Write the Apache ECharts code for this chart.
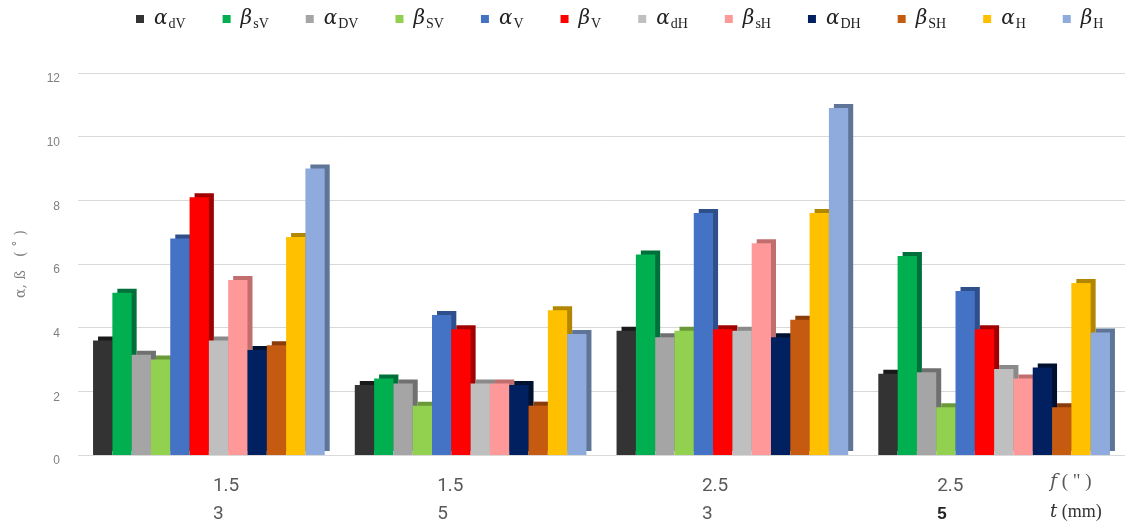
<!DOCTYPE html>
<html>
<head>
<meta charset="utf-8">
<script src="https://cdn.jsdelivr.net/npm/echarts@6/dist/echarts.min.js"></script>
<style>html,body{margin:0;padding:0;background:#fff}#c{width:1129px;height:531px}</style>
</head>
<body>
<div id="c"></div>
<script>
// ---- data ----
const fValues = ['1.5', '1.5', '2.5', '2.5'];
const tValues = ['3', '5', '3', '5'];
const seriesGreek = ['α', 'β', 'α', 'β', 'α', 'β', 'α', 'β', 'α', 'β', 'α', 'β'];
const seriesSub = ['dV', 'sV', 'DV', 'SV', 'V', 'V', 'dH', 'sH', 'DH', 'SH', 'H', 'H'];
const alpha_dV = [3.6, 2.2, 3.9, 2.55];
const beta_sV = [5.1, 2.4, 6.3, 6.25];
const alpha_DV = [3.15, 2.25, 3.7, 2.6];
const beta_SV = [3.0, 1.55, 3.9, 1.5];
const alpha_V = [6.8, 4.4, 7.6, 5.15];
const beta_V = [8.1, 3.95, 3.95, 3.95];
const alpha_dH = [3.6, 2.25, 3.9, 2.7];
const beta_sH = [5.5, 2.25, 6.65, 2.4];
const alpha_DH = [3.3, 2.2, 3.7, 2.75];
const beta_SH = [3.45, 1.55, 4.25, 1.5];
const alpha_H = [6.85, 4.55, 7.6, 5.4];
const beta_H = [9.0, 3.8, 10.9, 3.85];
const yTicks = [0, 2, 4, 6, 8, 10, 12];
const seriesValues = [alpha_dV, beta_sV, alpha_DV, beta_SV, alpha_V, beta_V, alpha_dH, beta_sH, alpha_DH, beta_SH, alpha_H, beta_H];

// ---- styles ----
const colors = ['#333333', '#00b050', '#a5a5a5', '#92d050', '#4472c4', '#ff0000', '#bfbfbf', '#ff9999', '#002060', '#c55a11', '#ffc000', '#8faadc'];
const sideColors = ['#1a1a1a', '#00703a', '#707070', '#6a9a38', '#2e4f8a', '#a00000', '#8a8a8a', '#c06e6e', '#00112f', '#8a3c0a', '#b38600', '#5f7598'];
const labelShift = [[0, 38], [37, 0], [31, 0], [84, 0]]; // [padRight, padLeft]

const names = seriesGreek.map((g, i) => g + seriesSub[i]);
const categories = fValues.map((f, i) => f + '|' + tValues[i]);

const baseTok = {fontFamily: 'Liberation Sans Narrow, Roboto, sans-serif', fontSize: 19, color: '#595959', lineHeight: 28, width: 30, align: 'left'};
const rich = {};
labelShift.forEach((s, i) => {
  rich['f' + i] = Object.assign({}, baseTok, {padding: [0, s[0], 0, s[1]]});
  rich['t' + i] = Object.assign({}, baseTok, {padding: [0, s[0], 0, s[1]]});
});
rich.t3 = Object.assign({}, baseTok, {fontFamily: 'Liberation Sans, Roboto, sans-serif', fontWeight: 'bold', fontSize: 17, color: '#222', padding: [0, labelShift[3][0], 0, labelShift[3][1]]});

const chart = echarts.init(document.getElementById('c'), null, {renderer: 'canvas'});
chart.setOption({
  animation: false,
  backgroundColor: '#fff',
  color: colors,
  grid: {left: 78, right: 4, top: 73, bottom: 76},
  legend: {
    data: names,
    left: 131, top: 4,
    icon: 'rect', itemWidth: 8, itemHeight: 8, itemGap: 37,
    formatter: function (n) {
      return '{a|' + n.charAt(0) + '}{s|' + n.slice(1) + '}';
    },
    textStyle: {
      rich: {
        a: {fontFamily: 'DejaVu Serif', fontStyle: 'italic', fontSize: 20, color: '#222', padding: [0, 0, 0, 5]},
        s: {fontFamily: 'Liberation Serif', fontSize: 14, color: '#222', padding: [10, 0, 0, 1]}
      }
    }
  },
  xAxis: {
    type: 'category',
    data: categories,
    axisLine: {show: false},
    axisTick: {show: false},
    axisLabel: {
      margin: 17,
      formatter: function (v, i) {
        const p = v.split('|');
        return '{f' + i + '|' + p[0] + '}\n{t' + i + '|' + p[1] + '}';
      },
      rich: rich
    }
  },
  yAxis: {
    type: 'value',
    min: 0, max: 12, interval: 2,
    name: 'α, ß   ( ˚ )',
    nameLocation: 'middle',
    nameGap: 50,
    nameTextStyle: {fontFamily: 'DejaVu Serif', fontSize: 14, color: '#808080'},
    axisLabel: {color: '#808080', fontSize: 12, fontFamily: 'Liberation Sans, sans-serif', margin: 18, verticalAlign: 'top',
      formatter: function (v) { return yTicks.indexOf(v) >= 0 ? String(v) : ''; }},
    splitLine: {lineStyle: {color: '#d9d9d9', width: 1}},
    axisLine: {show: false},
    axisTick: {show: false}
  },
  series: seriesValues.map((vals, i) => ({
    name: names[i],
    type: 'bar',
    data: vals,
    barGap: '0%',
    barCategoryGap: '11.5%',
    itemStyle: {
      color: colors[i],
      shadowColor: sideColors[i],
      shadowBlur: 0,
      shadowOffsetX: 5,
      shadowOffsetY: -4
    }
  })),
  graphic: [
    {type: 'text', left: 1050, top: 473, style: {text: '{i|f} ( " )', rich: {i: {fontFamily: 'DejaVu Serif', fontStyle: 'italic', fontSize: 19, fill: '#595959'}}, fontFamily: 'Liberation Serif', fontSize: 19, fill: '#595959'}},
    {type: 'text', left: 1050, top: 503, style: {text: '{i|t} (mm)', rich: {i: {fontFamily: 'DejaVu Serif', fontStyle: 'italic', fontSize: 18, fill: '#333'}}, fontFamily: 'Liberation Serif', fontSize: 18, fill: '#333'}}
  ]
});
</script>
</body>
</html>
